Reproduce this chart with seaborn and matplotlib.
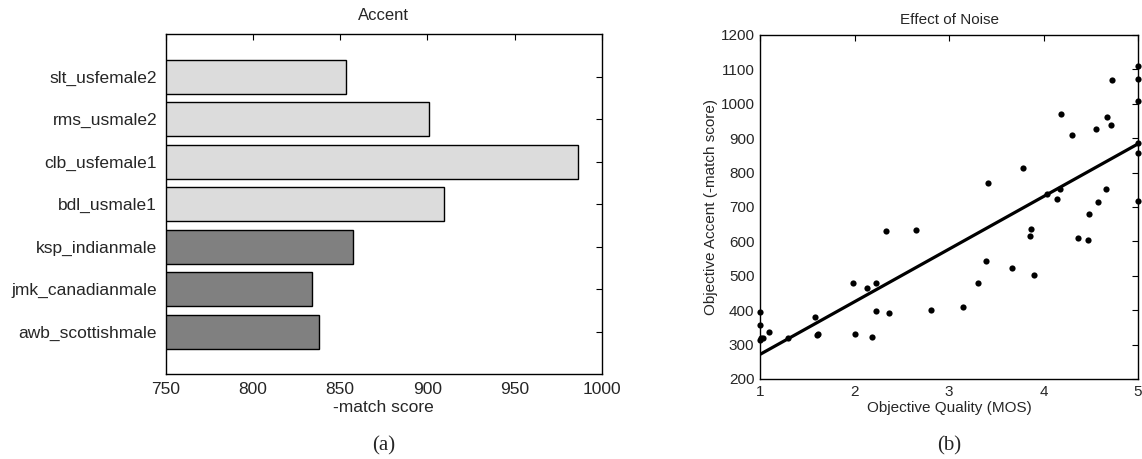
import numpy as np
import pandas as pd
import matplotlib
matplotlib.use("Agg")
import matplotlib.pyplot as plt
import seaborn as sns

# ---- data: panel (a) ----
speakers = ["slt_usfemale2", "rms_usmale2", "clb_usfemale1", "bdl_usmale1",
            "ksp_indianmale", "jmk_canadianmale", "awb_scottishmale"]
match_scores = [853.5, 900.7, 986.4, 909.6, 857.5, 834.1, 838.1]
bar_colors = ["#dcdcdc", "#dcdcdc", "#dcdcdc", "#dcdcdc", "#808080", "#808080", "#808080"]
xticks_a = [750, 800, 850, 900, 950, 1000]

# ---- data: panel (b) ----
mos = [1.00, 1.00, 1.00, 1.01, 1.03, 1.09, 1.30, 1.58, 1.60, 1.61,
       1.98, 2.01, 2.13, 2.18, 2.23, 2.23, 2.33, 2.37, 2.65, 2.81,
       3.15, 3.31, 3.39, 3.41, 3.665, 3.785, 3.86, 3.87, 3.90, 4.04,
       4.14, 4.17, 4.18, 4.30, 4.37, 4.47, 4.48, 4.56, 4.58, 4.66,
       4.67, 4.71, 4.73, 5.00, 5.00, 5.00, 5.00, 5.00, 5.00]
accent = [396, 358, 314, 318, 318, 336, 318, 381, 327, 332,
          478, 332, 464, 322, 478, 399, 630, 393, 633, 400,
          410, 478, 542, 770, 523, 813, 616, 636, 502, 738,
          724, 753, 971, 909, 610, 603, 680, 926, 715, 751,
          962, 938, 1070, 1110, 1071, 1008, 887, 856, 718]
xticks_b = [1, 2, 3, 4, 5]
yticks_b = [200, 300, 400, 500, 600, 700, 800, 900, 1000, 1100, 1200]

sns.set_theme(style="white")
plt.rcParams["font.family"] = ["Liberation Sans", "DejaVu Sans"]

fig = plt.figure(figsize=(11.42, 4.59), dpi=100)

# ---------- panel (a) ----------
axa = fig.add_axes([165.5 / 1142, (459 - 374) / 459, (602 - 165.5) / 1142, (374 - 34) / 459])
df_a = pd.DataFrame({"speaker": speakers, "score": match_scores})
sns.barplot(data=df_a, x="score", y="speaker", hue="speaker", palette=bar_colors,
            orient="h", width=0.8, edgecolor="black", linewidth=1.0, legend=False, ax=axa)
axa.set_xlim(750, 1000)
axa.set_ylim(7, -1)
axa.set_xticks(xticks_a)
axa.set_xticklabels([str(v) for v in xticks_a])
axa.set_xlabel("-match score", fontsize=12.5, labelpad=2)
axa.set_ylabel("")
axa.set_title("Accent", fontsize=12, pad=10)
axa.tick_params(axis="both", direction="in", length=4, width=0.8, labelsize=12.5,
                top=True, right=True, color="black", pad=6)
for s in axa.spines.values():
    s.set_color("black")
    s.set_linewidth(1.0)
fig.text((165.5 + 602) / 2 / 1142, 1 - 446 / 459, "(a)", ha="center", va="center",
         fontsize=15, family=["Liberation Serif", "DejaVu Serif"])

# ---------- panel (b) ----------
axb = fig.add_axes([760 / 1142, (459 - 379) / 459, (1138 - 760) / 1142, (379 - 35) / 459])
df_b = pd.DataFrame({"mos": mos, "accent": accent})
sns.regplot(data=df_b, x="mos", y="accent", ci=None, truncate=True, ax=axb,
            scatter_kws=dict(s=20, color="black", alpha=1, linewidths=0, clip_on=False, zorder=3),
            line_kws=dict(color="black", lw=2.3))
axb.set_xlim(1, 5)
axb.set_ylim(200, 1200)
axb.set_xticks(xticks_b)
axb.set_yticks(yticks_b)
axb.set_xlabel("Objective Quality (MOS)", fontsize=11, labelpad=2)
axb.set_ylabel("Objective Accent (-match score)", fontsize=11, labelpad=2)
axb.set_title("Effect of Noise", fontsize=11, pad=8)
axb.tick_params(axis="both", direction="in", length=4, width=0.8, labelsize=11,
                top=True, right=True, color="black", pad=4)
for s in axb.spines.values():
    s.set_color("black")
    s.set_linewidth(1.0)
fig.text((760 + 1138) / 2 / 1142, 1 - 446 / 459, "(b)", ha="center", va="center",
         fontsize=15, family=["Liberation Serif", "DejaVu Serif"])

fig.savefig("out.png", dpi=100, facecolor="white")
